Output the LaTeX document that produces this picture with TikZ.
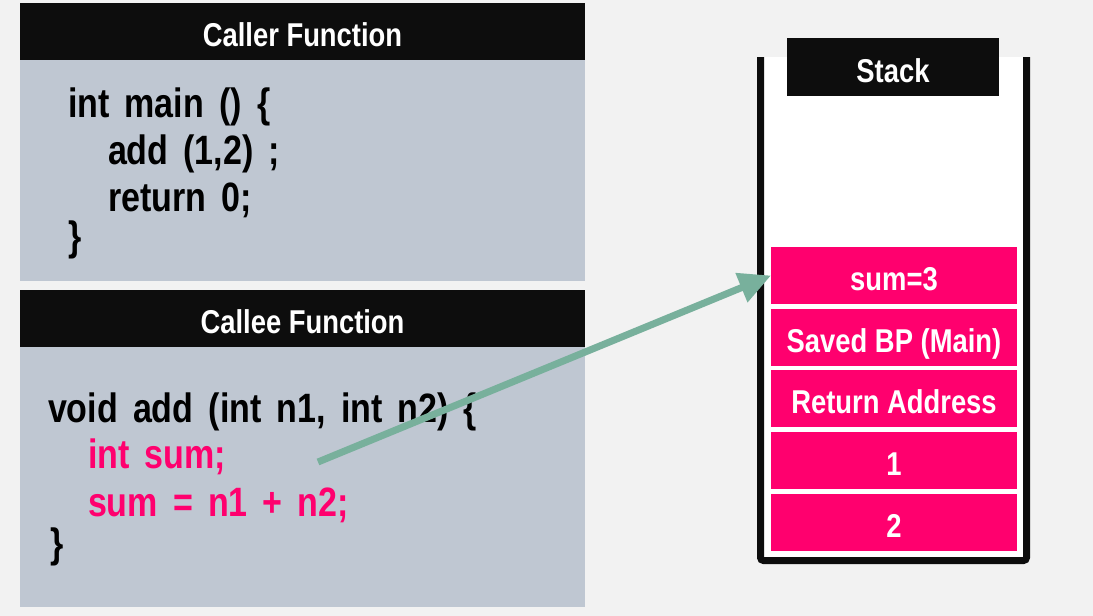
\documentclass[tikz,border=0pt]{standalone}
\usepackage{fontspec}
\setmainfont{Liberation Sans}[FakeStretch=0.83]
\newfontfamily\codefont{Liberation Sans}[FakeStretch=0.83, WordSpace=1.6]
\usetikzlibrary{arrows.meta}
\definecolor{bgc}{HTML}{F2F2F2}
\definecolor{headc}{HTML}{0D0D0D}
\definecolor{bodyc}{HTML}{BFC7D2}
\definecolor{pinkc}{HTML}{FF006E}
\definecolor{arrc}{HTML}{78B09C}
\tikzset{
  head/.style={fill=headc, text=white, inner sep=0pt, outer sep=0pt, anchor=north west,
    text height=30pt, text depth=0pt,
    font=\bfseries\fontsize{33}{33}\selectfont},
  body/.style={fill=bodyc, inner sep=0pt, outer sep=0pt, anchor=north west},
  code/.style={inner sep=0pt, outer sep=0pt, anchor=base west, text=black,
    font=\codefont\bfseries\fontsize{41}{41}\selectfont},
  hot/.style={code, text=pinkc},
  cell/.style={fill=pinkc, text=white, inner sep=0pt, outer sep=0pt, anchor=north west,
    minimum width=246pt, minimum height=57pt, text height=30pt, text depth=0pt,
    font=\bfseries\fontsize{33}{33}\selectfont},
  wall/.style={draw=headc, line width=7pt, rounded corners=3pt},
  flow/.style={draw=arrc, line width=7pt, -{Triangle[length=32pt,width=30pt]}, arrc}
}
\begin{document}
\begin{tikzpicture}[x=1pt,y=-1pt]
\fill[bgc] (0,0) rectangle (1093,616);
\useasboundingbox (0,0) rectangle (1093,616);
% Caller
\node[body, minimum width=565pt, minimum height=221pt] (cbody) at (20,60) {};
\node[head, minimum width=565pt, minimum height=57pt] (chead) at (20,3) {Caller Function};
\node[code] (c1) at (68,117) {int main () \{};
\node[code] (c2) at (108,164) {add (1,2) ;};
\node[code] (c3) at (108,211) {return 0;};
\node[code] (c4) at (68,250) {\}};
% Callee
\node[body, minimum width=565pt, minimum height=260pt] (ebody) at (20,347) {};
\node[head, minimum width=565pt, minimum height=57pt] (ehead) at (20,290) {Callee Function};
\node[code] (e1) at (48,422) {void add (int n1, int n2) \{};
\node[hot] (e2) at (88,468) {int sum;};
\node[hot] (e3) at (88,516) {sum = n1 + n2;};
\node[code] (e4) at (50,557) {\}};
% Stack
\fill[white] (764,57) rectangle (1023,557);
\draw[wall] (760.5,57) -- (760.5,560.5) -- (1026.5,560.5) -- (1026.5,57);
\node[head, minimum width=212pt, minimum height=58pt] (shead) at (787,38) {Stack};
\node[cell] (s1) at (771,247) {sum=3};
\node[cell] (s2) at (771,308.5) {Saved BP (Main)};
\node[cell] (s3) at (771,370) {Return Address};
\node[cell] (s4) at (771,432) {1};
\node[cell] (s5) at (771,494) {2};
% Arrow
\coordinate (astart) at (318,462);
\draw[flow] (astart) -- (s1.west);
\end{tikzpicture}
\end{document}
